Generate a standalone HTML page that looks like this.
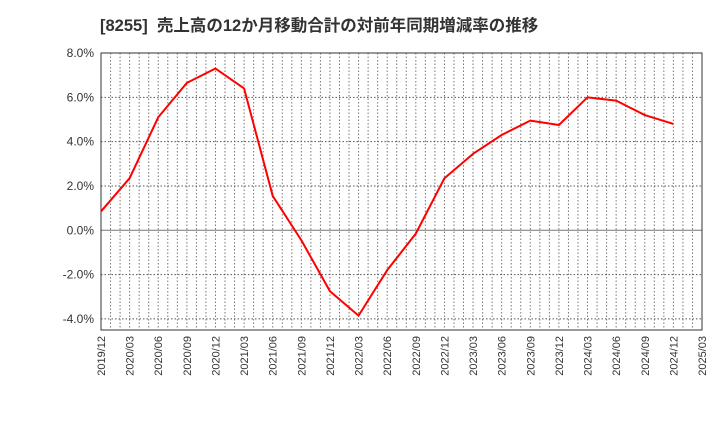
<!DOCTYPE html>
<html><head><meta charset="utf-8"><style>
body{margin:0;background:#fff;font-family:"Liberation Sans","Noto Sans CJK JP",sans-serif}
</style></head><body>
<svg width="720" height="440" xmlns="http://www.w3.org/2000/svg">
<text x="100" y="31" font-size="16.5" font-weight="bold" fill="#333" xml:space="preserve" style="white-space:pre" font-family="Liberation Sans, Noto Sans CJK JP, sans-serif">[8255]  売上高の12か月移動合計の対前年同期増減率の推移</text>
<g id="grid"></g><g id="axes"></g><g id="series"></g>
</svg>
<script>
const categories=["2019/12","2020/03","2020/06","2020/09","2020/12","2021/03","2021/06","2021/09","2021/12","2022/03","2022/06","2022/09","2022/12","2023/03","2023/06","2023/09","2023/12","2024/03","2024/06","2024/09","2024/12","2025/03"];
const values=[0.85,2.35,5.1,6.65,7.3,6.4,1.55,-0.45,-2.75,-3.85,-1.8,-0.15,2.35,3.45,4.3,4.95,4.75,6.0,5.85,5.2,4.8];
const yTicks=[-4,-2,0,2,4,6,8];
const yTickLabels=["-4.0%","-2.0%","0.0%","2.0%","4.0%","6.0%","8.0%"];
const L=101,R=702,T=53,B=330,ymin=-4.5,ymax=8;
const NS="http://www.w3.org/2000/svg";
const x=i=>L+(R-L)*i/(categories.length-1);
const y=v=>B-(v-ymin)/(ymax-ymin)*(B-T);
function mk(t,a,p){const e=document.createElementNS(NS,t);for(const k in a)e.setAttribute(k,a[k]);p.appendChild(e);return e;}
const grid=document.getElementById('grid'),axes=document.getElementById('axes'),ser=document.getElementById('series');
for(let m=1;m<(categories.length-1)*3;m++){const xx=L+(R-L)*m/((categories.length-1)*3);
const l=mk('line',{x1:xx,x2:xx,y1:T,y2:B,stroke:'#777','stroke-dasharray':'1.5,2','stroke-width':1},grid);

}
yTicks.forEach((v,i)=>{const yy=y(v);
const l=mk('line',{x1:L,x2:R,y1:yy,y2:yy,stroke:v===0?'#777':'#555','stroke-dasharray':v===0?'':'1.5,2','stroke-width':1},grid);


const t=mk('text',{x:L-7,y:yy+4,'text-anchor':'end','font-size':12,fill:'#333'},axes);t.textContent=yTickLabels[i];

});
categories.forEach((c,i)=>{const xx=x(i);
const t=mk('text',{x:xx+4,y:B+6,'text-anchor':'end','font-size':11,fill:'#333',transform:`rotate(-90 ${xx+4} ${B+6})`},axes);t.textContent=c;

});
const fr=mk('rect',{x:L,y:T,width:R-L,height:B-T,fill:'none',stroke:'#333','stroke-width':1},axes);


const p=mk('polyline',{points:values.map((v,i)=>x(i)+','+y(v)).join(' '),fill:'none',stroke:'#f00','stroke-width':2,'stroke-linejoin':'round'},ser);


</script>
</body></html>
